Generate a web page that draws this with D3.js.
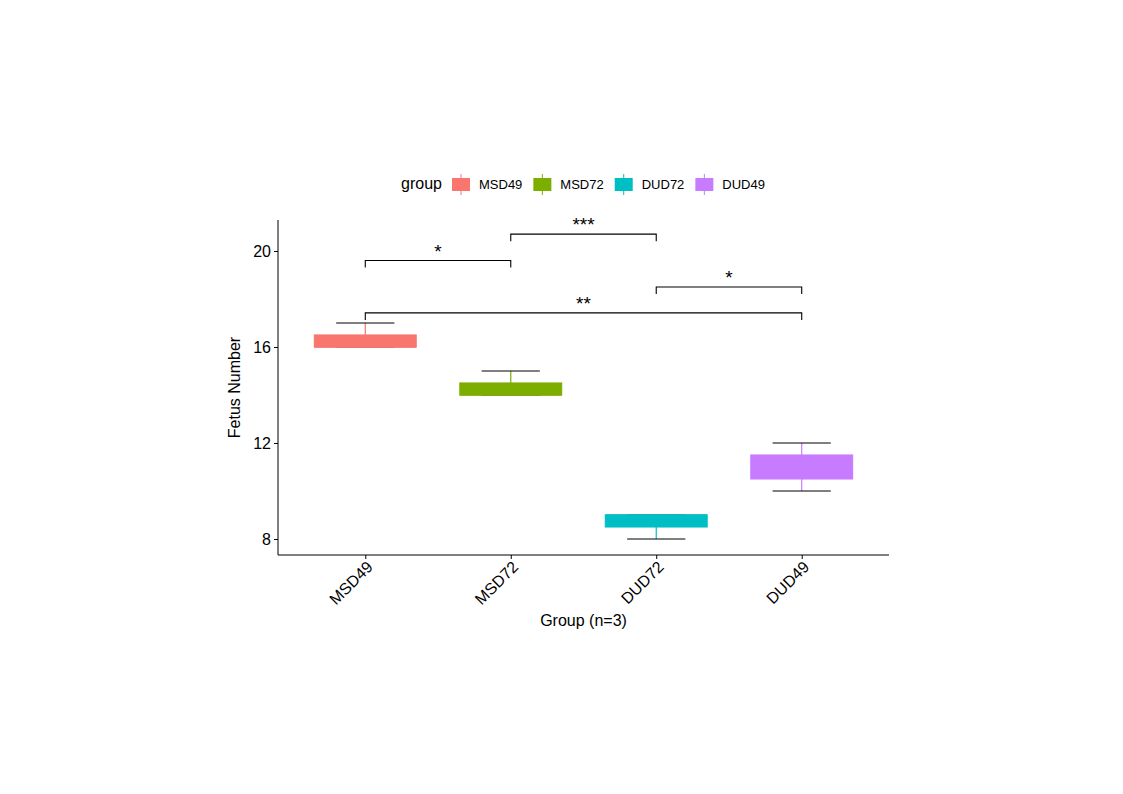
<!DOCTYPE html>
<html><head><meta charset="utf-8">
<script src="https://cdn.jsdelivr.net/npm/d3@7"></script>
<style>body{margin:0;background:#fff;}svg{display:block;font-family:"Liberation Sans",Arial,sans-serif;}</style>
</head><body>
<svg id="c" width="1123" height="794"></svg>
<script>
const groups = ["MSD49","MSD72","DUD72","DUD49"];
const colors = ["#F8766D","#7CAE00","#00BFC4","#C77CFF"];
const obsMSD49 = [16,16,17];
const obsMSD72 = [14,14,15];
const obsDUD72 = [8,9,9];
const obsDUD49 = [10,11,12];
const yTicks = [8,12,16,20];
const brackets = [
  {a:"MSD49", b:"MSD72", y:19.6, label:"*"},
  {a:"MSD72", b:"DUD72", y:20.7, label:"***"},
  {a:"DUD72", b:"DUD49", y:18.5, label:"*"},
  {a:"MSD49", b:"DUD49", y:17.42, label:"**"}
];
const observations = [obsMSD49, obsMSD72, obsDUD72, obsDUD49];

const svg = d3.select("#c");
const FF = "Liberation Sans, Arial, sans-serif";
const L = 278, R = 889, T = 220, B = 555;
const x = d3.scalePoint().domain(groups).range([L, R]).padding(0.6);
const step = x.step();
const y = d3.scaleLinear().domain([7.333, 21.29]).range([B, T]);

// axes
const gy = svg.append("g").attr("transform",`translate(${L},0)`)
  .call(d3.axisLeft(y).tickValues(yTicks).tickSize(4).tickPadding(3));
gy.select(".domain").attr("d",`M0,${B}V${T}`).attr("stroke","#000");
gy.selectAll("text").attr("font-size","16px").attr("fill","#000").attr("font-family",FF);
gy.selectAll("line").attr("stroke","#000");

const gx = svg.append("g").attr("transform",`translate(0,${B})`)
  .call(d3.axisBottom(x).tickSize(4));
gx.select(".domain").attr("d",`M${L},0H${R}`).attr("stroke","#000");
gx.selectAll("line").attr("stroke","#000");
gx.selectAll("text").attr("font-size","16px").attr("fill","#000")
  .attr("font-family",FF)
  .attr("text-anchor","end").attr("dy",null).attr("y",null)
  .attr("transform","translate(8,13) rotate(-45)");

// boxes
const bw = step*0.7, ew = step*0.4;
groups.forEach((g,i)=>{
  const v = observations[i].slice().sort(d3.ascending);
  const q1 = d3.quantile(v,0.25), md = d3.quantile(v,0.5), q3 = d3.quantile(v,0.75);
  const lo = d3.min(v), hi = d3.max(v);
  const cx = x(g), c = colors[i];
  const gg = svg.append("g");
  gg.append("line").attr("x1",cx).attr("x2",cx).attr("y1",y(hi)).attr("y2",y(q3)).attr("stroke",c).attr("stroke-width",1.2);
  gg.append("line").attr("x1",cx).attr("x2",cx).attr("y1",y(lo)).attr("y2",y(q1)).attr("stroke",c).attr("stroke-width",1.2);
  gg.append("line").attr("x1",cx-ew/2).attr("x2",cx+ew/2).attr("y1",y(hi)).attr("y2",y(hi)).attr("stroke","#000").attr("stroke-width",1.1);
  gg.append("line").attr("x1",cx-ew/2).attr("x2",cx+ew/2).attr("y1",y(lo)).attr("y2",y(lo)).attr("stroke","#000").attr("stroke-width",1.1);
  gg.append("rect").attr("x",cx-bw/2).attr("width",bw).attr("y",y(q3)).attr("height",Math.max(0,y(q1)-y(q3)))
    .attr("fill",c).attr("stroke",c).attr("stroke-width",1.1);
  gg.append("line").attr("x1",cx-bw/2).attr("x2",cx+bw/2).attr("y1",y(md)).attr("y2",y(md)).attr("stroke",c).attr("stroke-width",1.5);
});

// significance brackets
const tk = 7;
brackets.forEach(b=>{
  const x1 = x(b.a), x2 = x(b.b), yy = y(b.y);
  svg.append("path").attr("d",`M${x1},${yy+tk}V${yy}H${x2}V${yy+tk}`)
    .attr("fill","none").attr("stroke","#000").attr("stroke-width",1.1);
  svg.append("text").attr("x",(x1+x2)/2).attr("y",yy-3).attr("text-anchor","middle")
    .attr("font-size","19px").attr("fill","#000").attr("font-family",FF).text(b.label);
});

// axis titles
svg.append("text").attr("x",(L+R)/2).attr("y",626).attr("text-anchor","middle")
  .attr("font-size","16px").attr("fill","#000").text("Group (n=3)");
svg.append("text").attr("transform",`translate(240,${(T+B)/2}) rotate(-90)`).attr("text-anchor","middle")
  .attr("font-size","16px").attr("fill","#000").text("Fetus Number");

// legend
const lg = svg.append("g");
lg.append("text").attr("x",401).attr("y",189).attr("font-size","16px").attr("fill","#000").text("group");
let lx = 452;
groups.forEach((g,i)=>{
  const c = colors[i];
  lg.append("line").attr("x1",lx+9).attr("x2",lx+9).attr("y1",174).attr("y2",195).attr("stroke",c).attr("stroke-width",1);
  lg.append("rect").attr("x",lx).attr("y",178).attr("width",18).attr("height",13).attr("fill",c);
  const t = lg.append("text").attr("x",lx+27).attr("y",189).attr("font-size","13px").attr("fill","#000").text(g);
  const w = t.node().getComputedTextLength();
  lx = lx + 27 + w + 11;
});
</script>
</body></html>
